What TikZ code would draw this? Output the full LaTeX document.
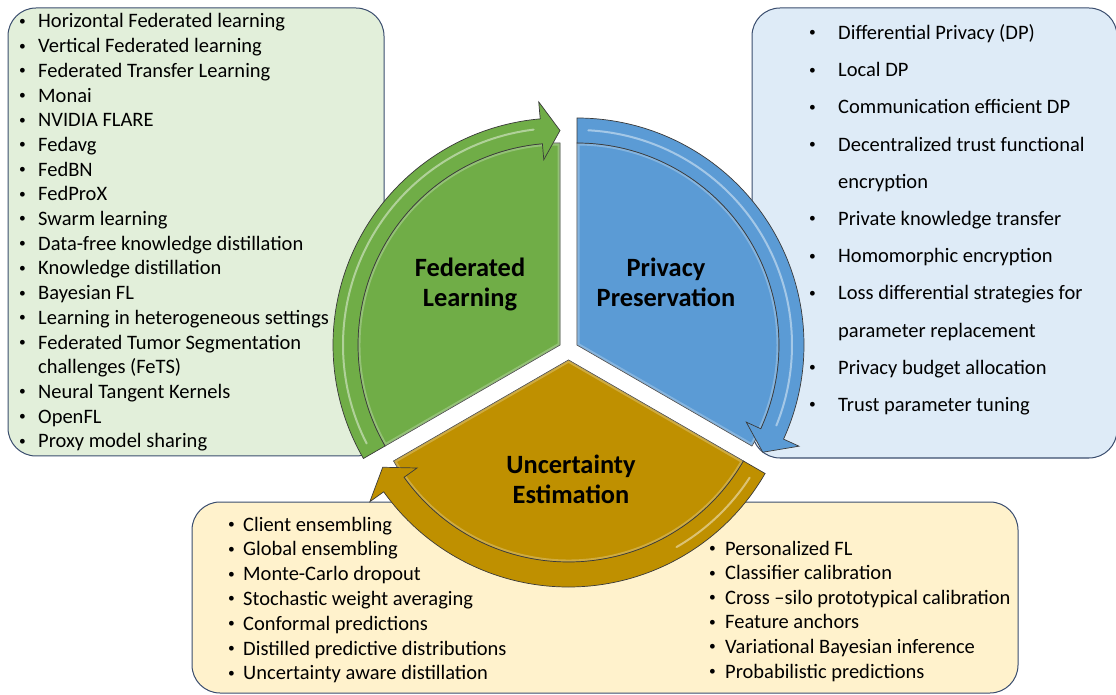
\documentclass[tikz,border=0pt]{standalone}
\usepackage{fontspec}
\setmainfont{Carlito}
\definecolor{flgreen}{HTML}{70AD47}
\definecolor{ppblue}{HTML}{5B9BD5}
\definecolor{uegold}{HTML}{BF9000}
\definecolor{boxgreen}{HTML}{E2EFDA}
\definecolor{boxblue}{HTML}{DEEBF7}
\definecolor{boxyellow}{HTML}{FFF2CC}
\definecolor{boxedge}{HTML}{3A4D6E}
\definecolor{segedge}{HTML}{3A3A3A}
\newcommand\dotb{\raisebox{2.6pt}{\fontsize{13.5}{13.5}\selectfont •}}
\newcommand\bl{\makebox[\bw][l]{\dotb}}
\newcommand\nb{\hspace*{\bw}}
\begin{document}
\begin{tikzpicture}[x=1pt,y=1pt,
  listbox/.style={draw=boxedge,line width=1pt,rounded corners=28pt},
  item/.style={anchor=base west,inner sep=0pt,font=\fontsize{20.5}{24}\selectfont,text=black},
  ttl/.style={anchor=base,inner sep=0pt,font=\bfseries\fontsize{26.4}{30}\selectfont,text=black},
  seg/.style={draw=segedge,line width=0.7pt},
  gloss/.style={white,opacity=0.45,line width=2pt,line cap=round},
  glow/.style={white,opacity=0.25,line width=5pt}]
\useasboundingbox (0,0) rectangle (1116,694);
\clip (0,0) rectangle (1116,694);
% boxes
\path[listbox,fill=boxgreen] (8,238) rectangle (384,686);
\path[listbox,fill=boxblue] (752,236) rectangle (1117,686);
\path[listbox,fill=boxyellow] (192,1) rectangle (1018,192);
% green segment
\begin{scope}[shift={(560,349)}]
  \path[seg,fill=flgreen] (0,0) -- (210:202) arc[start angle=210,end angle=90,radius=202] -- cycle;
  \begin{scope}
    \clip (0,0) -- (210:202) arc[start angle=210,end angle=90,radius=202] -- cycle;
    \draw[glow] (0,0) -- (210:202) arc[start angle=210,end angle=90,radius=202] -- cycle;
  \end{scope}
  \path[seg,fill=flgreen] (210:227) arc[start angle=210,end angle=95,radius=227]
    -- (95:244) -- (90:214.5) -- (95:186) -- (95:202)
    arc[start angle=95,end angle=210,radius=202] -- cycle;
  \draw[gloss] (207:217) arc[start angle=207,end angle=97,radius=217];
\end{scope}
% blue segment
\begin{scope}[shift={(577,349)}]
  \path[seg,fill=ppblue] (0,0) -- (90:202) arc[start angle=90,end angle=-30,radius=202] -- cycle;
  \begin{scope}
    \clip (0,0) -- (90:202) arc[start angle=90,end angle=-30,radius=202] -- cycle;
    \draw[glow] (0,0) -- (90:202) arc[start angle=90,end angle=-30,radius=202] -- cycle;
  \end{scope}
  \path[seg,fill=ppblue] (90:227) arc[start angle=90,end angle=-24.5,radius=227]
    -- (-24.5:244) -- (-30:214.5) -- (-24.5:186) -- (-24.5:202)
    arc[start angle=-24.5,end angle=90,radius=202] -- cycle;
  \draw[gloss] (87:215) arc[start angle=87,end angle=-22,radius=215];
\end{scope}
% gold segment
\begin{scope}[shift={(568.5,334)}]
  \path[seg,fill=uegold] (0,0) -- (210:202) arc[start angle=210,end angle=330,radius=202] -- cycle;
  \begin{scope}
    \clip (0,0) -- (210:202) arc[start angle=210,end angle=330,radius=202] -- cycle;
    \draw[glow] (0,0) -- (210:202) arc[start angle=210,end angle=330,radius=202] -- cycle;
  \end{scope}
  \path[seg,fill=uegold] (330:227) arc[start angle=330,end angle=215.5,radius=227]
    -- (215.5:244) -- (210:214.5) -- (215.5:186) -- (215.5:202)
    arc[start angle=215.5,end angle=330,radius=202] -- cycle;
  \draw[gloss] (327:216) arc[start angle=327,end angle=300,radius=216];
\end{scope}
% titles
\node[ttl] (fl1) at (470,417.3) {Federated};
\node[ttl] (fl2) at (470,387.3) {Learning};
\node[ttl] (pp1) at (666,417.3) {Privacy};
\node[ttl] (pp2) at (666,387.3) {Preservation};
\node[ttl] (ue1) at (571,221) {Uncertainty};
\node[ttl] (ue2) at (571,191) {Estimation};
% left list
\def\bw{19pt}
\foreach \t [count=\i from 0] in {\bl Horizontal Federated learning,\bl Vertical Federated learning,\bl Federated Transfer Learning,\bl Monai,\bl NVIDIA FLARE,\bl Fedavg,\bl FedBN,\bl FedProX,\bl Swarm learning,\bl Data-free knowledge distillation,\bl Knowledge distillation,\bl Bayesian FL,\bl Learning in heterogeneous settings,\bl Federated Tumor Segmentation,\nb challenges (FeTS),\bl Neural Tangent Kernels,\bl OpenFL,\bl Proxy model sharing}
  \node[item] (L\i) at (19,{666-24.7*\i}) {\t};
% right list
\foreach \t [count=\i from 0] in {\bl Differential Privacy (DP),\bl Local DP,\bl Communication efficient DP,\bl Decentralized trust functional,\nb encryption,\bl Private knowledge transfer,\bl Homomorphic encryption,\bl Loss differential strategies for,\nb parameter replacement,\bl Privacy budget allocation,\bl Trust parameter tuning}
  \node[item] (R\i) at (809,{654.5-37.2*\i}) {\def\bw{29pt}\t};
% bottom left list
\foreach \t [count=\i from 0] in {Client ensembling,Global ensembling,Monte-Carlo dropout,Stochastic weight averaging,Conformal predictions,Distilled predictive distributions,Uncertainty aware distillation}
  \node[item] (B\i) at (228,{163-24.8*\i}) {\makebox[15pt][l]{\dotb}\t};
% bottom right list
\foreach \t [count=\i from 0] in {Personalized FL,Classifier calibration,Cross –silo prototypical calibration,Feature anchors,Variational Bayesian inference,Probabilistic predictions}
  \node[item] (C\i) at (709,{139-24.6*\i}) {\makebox[16pt][l]{\dotb}\t};
\end{tikzpicture}
\end{document}
